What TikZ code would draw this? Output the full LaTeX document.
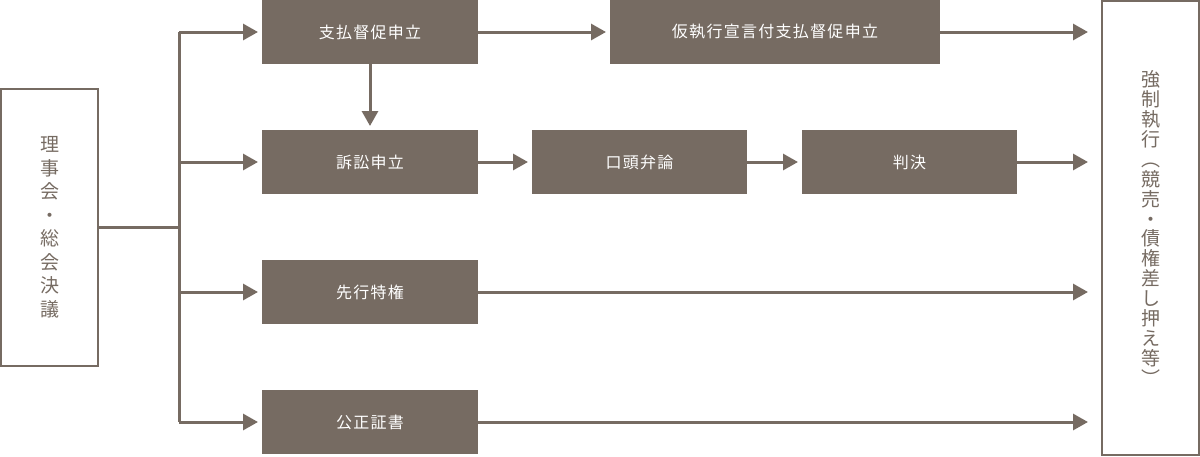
\documentclass[tikz,border=0pt]{standalone}
\usepackage{fontspec}
\setmainfont{Noto Sans CJK JP}
\newfontfamily\boxfont{Noto Sans CJK JP}[LetterSpace=8]
\usepackage{tikz}
\usetikzlibrary{arrows.meta}
\definecolor{taupe}{RGB}{118,107,98}
\tikzset{
    stepbox/.style={
        rectangle,
        fill=taupe, % 塗りつぶし
        text=white,
        minimum height=64,
        inner sep=0,
        outer sep=0,
        font=\boxfont\fontsize{16}{16}\selectfont
    },
    sidebox/.style={
        rectangle,
        draw=taupe, % 枠線のみ
        line width=1.5,
        text=taupe,
        minimum width=97,
        inner sep=0,
        outer sep=0,
        align=center
    },
    flow/.style={
        draw=taupe,
        line width=3,
        -{Triangle[length=15,width=16]},
        shorten >=4
    }
}

\begin{document}
\begin{tikzpicture}[x=1pt,y=-1pt]
    \useasboundingbox (0,0) rectangle (1200,456);
    % 左右の縦長ボックス
    \node[sidebox, minimum height=277,
          font=\fontsize{19}{23.5}\selectfont] (rijikai) at (49.5,227.5)
        {理\\事\\会\\・\\総\\会\\決\\議};
    \node[sidebox, minimum height=454,
          font=\fontsize{19}{19.9}\selectfont] (kyousei) at (1150.5,228)
        {強\\制\\執\\行\\︵\\競\\売\\・\\債\\権\\差\\し\\押\\え\\等\\︶};
    % 手続きのボックス
    \node[stepbox, minimum width=216] (shiharai) at (370,32) {支払督促申立};
    \node[stepbox, minimum width=330] (karishikko) at (775,32) {仮執行宣言付支払督促申立};
    \node[stepbox, minimum width=216] (soshou) at (370,162) {訴訟申立};
    \node[stepbox, minimum width=215] (koutou) at (639.5,162) {口頭弁論};
    \node[stepbox, minimum width=215] (hanketsu) at (909.5,162) {判決};
    \node[stepbox, minimum width=216] (sentoku) at (370,292) {先行特権};
    \node[stepbox, minimum width=216] (kousei) at (370,422) {公正証書};
    % 幹線
    \coordinate (trunk) at (179,227.5);
    \draw[taupe, line width=3] (rijikai.east) -- (trunk);
    \draw[taupe, line width=3] (trunk |- shiharai.west) -- (trunk |- kousei.west);
    \foreach \n in {shiharai, soshou, sentoku, kousei}
        \draw[flow] (trunk |- \n.west) -- (\n.west);
    % 矢印
    \draw[flow] (shiharai.east) -- (karishikko.west);
    \draw[flow] (shiharai.south) -- (soshou.north);
    \draw[flow] (soshou.east) -- (koutou.west);
    \draw[flow] (koutou.east) -- (hanketsu.west);
    \draw[flow, shorten >=14] (karishikko.east) -- (karishikko.east -| kyousei.west);
    \draw[flow, shorten >=14] (hanketsu.east) -- (hanketsu.east -| kyousei.west);
    \draw[flow, shorten >=14] (sentoku.east) -- (sentoku.east -| kyousei.west);
    \draw[flow, shorten >=14] (kousei.east) -- (kousei.east -| kyousei.west);
\end{tikzpicture}
\end{document}
